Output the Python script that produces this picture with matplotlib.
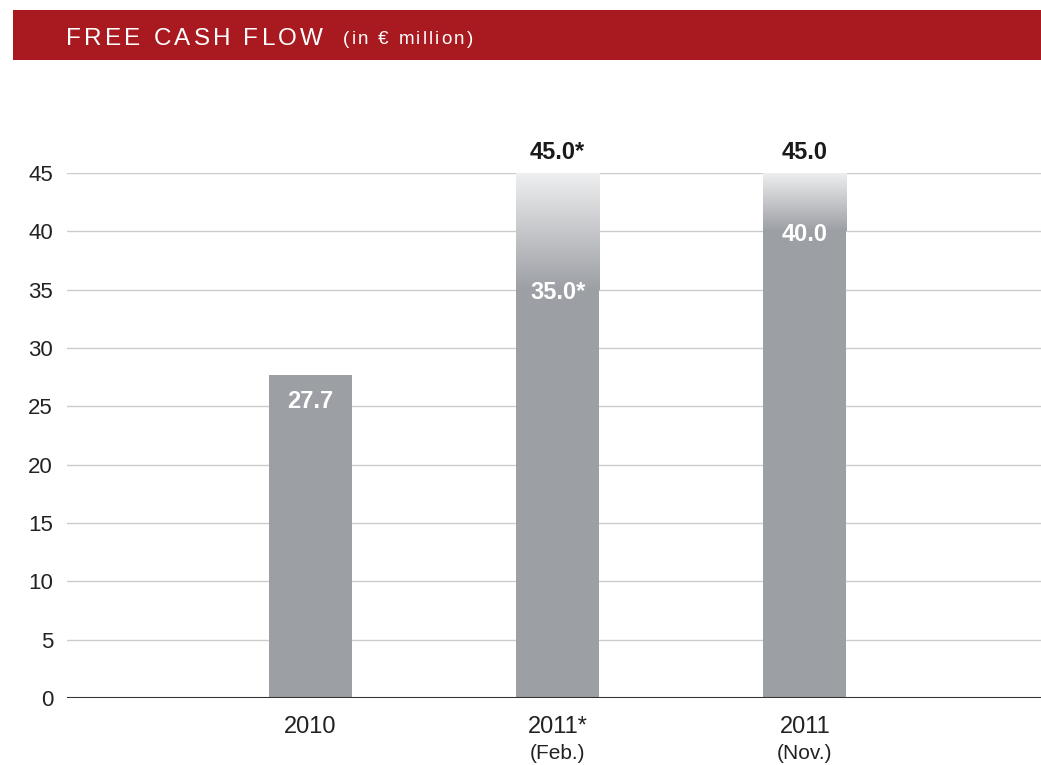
import numpy as np
import matplotlib
matplotlib.use('Agg')
import matplotlib.pyplot as plt
from matplotlib.colors import LinearSegmentedColormap
from matplotlib.patches import Rectangle

plt.rcParams['font.family'] = ['Liberation Sans', 'DejaVu Sans']

# free cash flow, in EUR million
years = ['2010', '2011*', '2011']
sub_labels = ['', '(Feb.)', '(Nov.)']
low = [27.7, 35.0, 40.0]      # solid part of the bar
high = [27.7, 45.0, 45.0]     # top of the forecast range
low_text = ['27.7', '35.0*', '40.0']
high_text = ['', '45.0*', '45.0']
yticks = [0, 5, 10, 15, 20, 25, 30, 35, 40, 45]

bar_grey = '#9c9fa4'
banner_red = '#a81a20'

W, H = 1041, 765
fig = plt.figure(figsize=(W/100, H/100), dpi=100)

# red title banner
fig.patches.append(Rectangle((13/W, 1-60/H), 1-13/W, 50/H, transform=fig.transFigure,
                             facecolor=banner_red, edgecolor='none'))

def spaced_text(x, y, s, spacing, **kw):
    # draw one char at a time so the letters can be spread out
    r = fig.canvas.get_renderer()
    for ch in s:
        if ch == ' ':
            x += (kw['fontsize']*0.28*100/72 + spacing)/W
            continue
        t = fig.text(x, y, ch, **kw)
        x += (t.get_window_extent(r).width + spacing)/W
    return x

xe = spaced_text(66/W, 1-45/H, 'FREE CASH FLOW', 3.2, fontsize=17.5, color='white', va='baseline')
spaced_text(xe + 17/W, 1-44/H, '(in € million)', 2.2, fontsize=13.5, color='white', va='baseline')

ax = fig.add_axes([67/W, 1-698/H, 1-67/W, 525/H])
x = np.arange(len(years))
bw = 0.336

ax.bar(x, low, width=bw, color=bar_grey, zorder=2)

# faded top part for the ranges
cmap = LinearSegmentedColormap.from_list('fade', [bar_grey, '#eeeff0'])
grad = np.linspace(0, 1, 256).reshape(-1, 1)
for i in range(len(x)):
    if high[i] > low[i]:
        ax.imshow(grad, cmap=cmap, origin='lower', aspect='auto', zorder=2,
                  extent=[x[i]-bw/2, x[i]+bw/2, low[i], high[i]], interpolation='bicubic')

ax.set_xlim(-0.984, 2.955)
ax.set_ylim(0, 45)
ax.set_yticks(yticks)
ax.set_xticks(x)
ax.set_xticklabels(years)
ax.tick_params(axis='y', length=0, pad=10, labelsize=16, labelcolor='#222222')
ax.tick_params(axis='x', length=0, pad=13, labelsize=17, labelcolor='#222222')
ax.grid(axis='y', color='#cccccc', linewidth=1.0, zorder=0)
ax.set_axisbelow(True)
for s in ax.spines.values():
    s.set_visible(False)
ax.axhline(0, color='#333333', linewidth=1.5, zorder=3)

for i in range(len(x)):
    if sub_labels[i]:
        ax.annotate(sub_labels[i], (x[i], 0), xytext=(0, -40), textcoords='offset points',
                    ha='center', va='center', fontsize=15, color='#222222', annotation_clip=False)
    if high_text[i]:
        ax.annotate(high_text[i], (x[i], high[i]), xytext=(0, 14.5), textcoords='offset points',
                    ha='center', va='center', fontsize=17, fontweight='bold', color='#1a1a1a')
        ax.annotate(low_text[i], (x[i], low[i]), xytext=(0, -2), textcoords='offset points',
                    ha='center', va='center', fontsize=17, fontweight='bold', color='white', zorder=4)
    else:
        ax.annotate(low_text[i], (x[i], low[i]), xytext=(0, -19), textcoords='offset points',
                    ha='center', va='center', fontsize=17, fontweight='bold', color='white', zorder=4)

fig.savefig('out.png', dpi=100, facecolor='white')
